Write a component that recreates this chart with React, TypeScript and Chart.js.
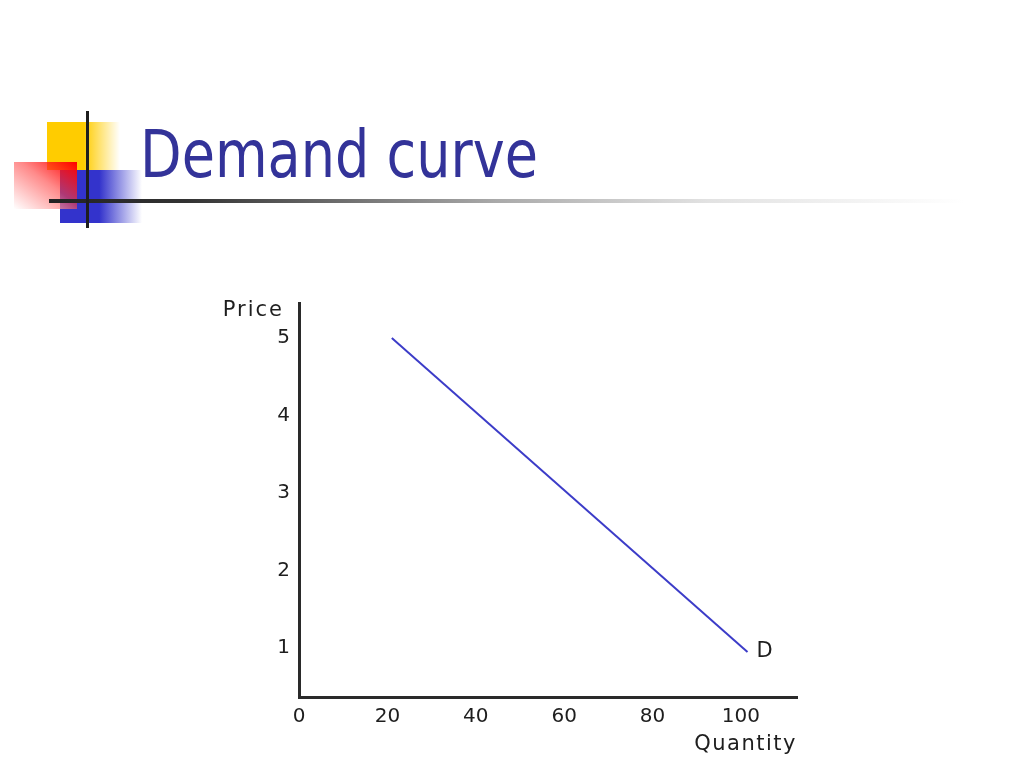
import React, { useEffect, useLayoutEffect, useRef } from 'react';
import { Chart, registerables } from 'chart.js';

Chart.register(...registerables);

// ---- data ----
const quantity = [21, 101.5];
const price = [5, 0.95];
const xTickValues = [0, 20, 40, 60, 80, 100];
const yTickValues = [1, 2, 3, 4, 5];
const xAxisTitle = 'Quantity';
const yAxisTitle = 'Price';
const curveLabel = 'D';
const slideTitle = 'Demand curve';

const FONT = '"DejaVu Sans", "Liberation Sans", sans-serif';
const TEXT = '#1e1e1e';

const labelsPlugin = {
  id: 'slideLabels',
  afterDraw(chart: any) {
    const { ctx, chartArea } = chart;
    const meta = chart.getDatasetMeta(0);
    const last = meta.data[meta.data.length - 1];
    ctx.save();
    ctx.fillStyle = TEXT;
    ctx.font = `21px ${FONT}`;
    (ctx as any).letterSpacing = '2px';
    ctx.textBaseline = 'middle';
    ctx.textAlign = 'right';
    ctx.fillText(yAxisTitle, chartArea.left - 15, chartArea.top + 8);
    (ctx as any).letterSpacing = '1.5px';
    ctx.fillText(xAxisTitle, chartArea.right, chartArea.bottom + 48);
    (ctx as any).letterSpacing = '0px';
    ctx.textAlign = 'left';
    if (last) ctx.fillText(curveLabel, last.x + 9, last.y);
    ctx.restore();
  },
};

export default function App() {
  const canvasRef = useRef<HTMLCanvasElement | null>(null);
  const titleRef = useRef<HTMLSpanElement | null>(null);

  useLayoutEffect(() => {
    const el = titleRef.current;
    if (el) {
      el.style.transform = 'none';
      const w = el.getBoundingClientRect().width;
      if (w > 0) el.style.transform = `scaleX(${398 / w})`;
    }
  }, []);

  useEffect(() => {
    if (!canvasRef.current) return;
    const tickFont = { family: FONT, size: 20 };
    const chart = new Chart(canvasRef.current, {
      type: 'line',
      data: {
        datasets: [
          {
            data: quantity.map((q, i) => ({ x: q, y: price[i] })),
            borderColor: '#3c3cc8',
            borderWidth: 2,
            pointRadius: 0,
            fill: false,
            tension: 0,
          },
        ],
      },
      options: {
        animation: false,
        responsive: false,
        events: [],
        layout: { padding: { top: 303, right: 227, left: 0, bottom: 0 } },
        plugins: { legend: { display: false }, tooltip: { enabled: false } },
        scales: {
          x: {
            type: 'linear',
            min: 0,
            max: 112.7,
            afterBuildTicks: (s: any) => {
              s.ticks = xTickValues.map((v) => ({ value: v }));
            },
            afterFit: (s: any) => {
              s.height = 71;
            },
            ticks: { font: tickFont, color: TEXT, padding: 8, maxRotation: 0, autoSkip: false },
            grid: { display: true, drawOnChartArea: false, drawTicks: false },
            border: { display: true, color: '#2a2a2a', width: 3 },
          },
          y: {
            type: 'linear',
            min: 0.37,
            max: 5.45,
            afterBuildTicks: (s: any) => {
              s.ticks = yTickValues.map((v) => ({ value: v }));
            },
            afterFit: (s: any) => {
              s.width = 299;
            },
            ticks: { font: tickFont, color: TEXT, padding: 9, autoSkip: false },
            grid: { display: true, drawOnChartArea: false, drawTicks: false },
            border: { display: true, color: '#2a2a2a', width: 3 },
          },
        },
      },
      plugins: [labelsPlugin],
    });
    return () => chart.destroy();
  }, []);

  const abs = (s: React.CSSProperties): React.CSSProperties => ({ position: 'absolute', ...s });

  return (
    <div style={{ position: 'fixed', left: 0, top: 0, width: 1024, height: 768, background: '#fff', overflow: 'hidden' }}>
      {/* decorative slide bullets */}
      <div style={abs({ left: 47, top: 122, width: 73, height: 48, background: 'linear-gradient(to right, #ffcc00 0%, #ffcc00 50%, rgba(255,204,0,0) 100%)' })} />
      <div style={abs({ left: 60, top: 170, width: 82, height: 53, background: 'linear-gradient(to right, #3333cc 0%, #3333cc 48%, rgba(51,51,204,0) 100%)' })} />
      <div style={abs({ left: 14, top: 162, width: 63, height: 47, background: 'linear-gradient(to bottom left, #ff0000 0%, rgba(255,60,60,0.6) 45%, rgba(255,255,255,0.9) 100%)' })} />
      <div style={abs({ left: 49, top: 199, width: 915, height: 4, background: 'linear-gradient(to right, #222 0%, #333 15%, #aaa 49%, #e2e2e2 72%, #fff 100%)' })} />
      <div style={abs({ left: 86, top: 111, width: 3, height: 117, background: '#1e1e1e' })} />
      <div style={abs({ left: 140, top: 122, height: 66, lineHeight: '66px', whiteSpace: 'nowrap' })}>
        <span
          ref={titleRef}
          style={{ display: 'inline-block', transformOrigin: 'left center', fontFamily: '"DejaVu Sans Condensed", "DejaVu Sans", sans-serif', fontSize: 66, color: '#333399' }}
        >
          {slideTitle}
        </span>
      </div>
      <canvas ref={canvasRef} width={1024} height={768} style={abs({ left: 0, top: 0, width: 1024, height: 768 })} />
    </div>
  );
}
